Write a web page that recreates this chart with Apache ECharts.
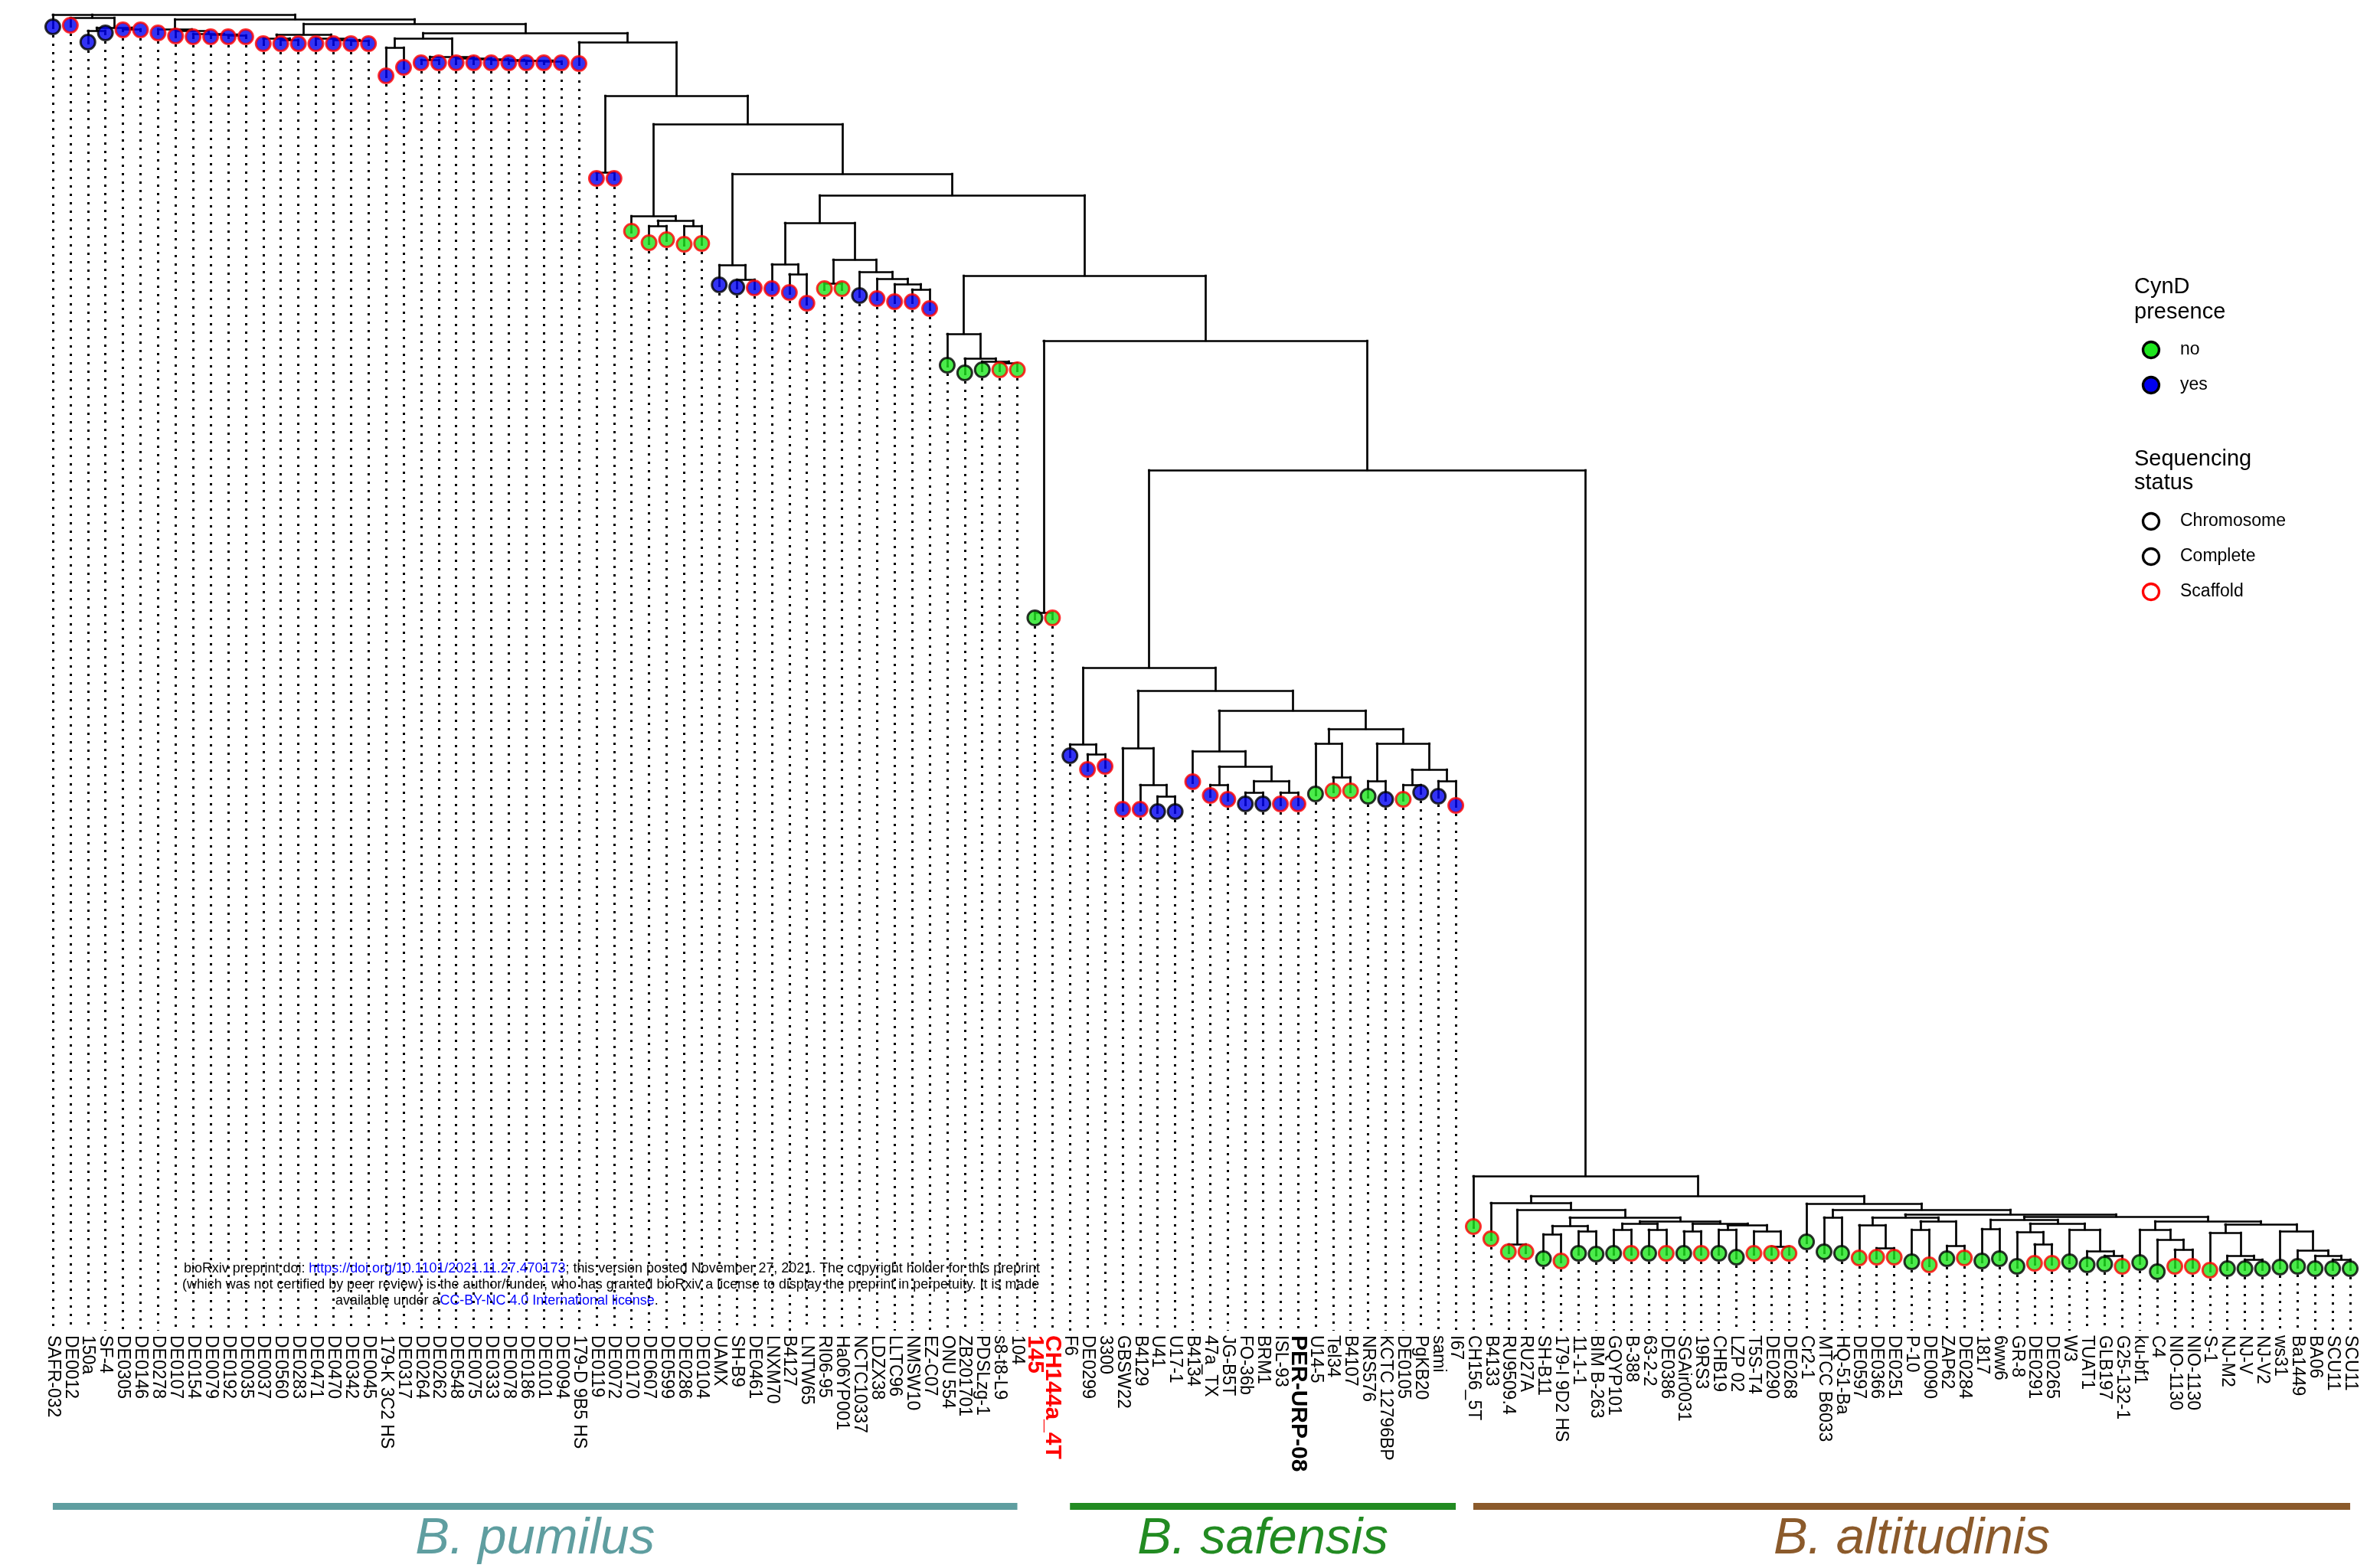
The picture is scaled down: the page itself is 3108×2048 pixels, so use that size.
<!DOCTYPE html>
<html>
<head>
<meta charset="utf-8">
<script src="https://cdn.jsdelivr.net/npm/echarts@6/dist/echarts.min.js"></script>
<style>
  html, body { margin: 0; padding: 0; background: #ffffff; }
  #chart { width: 3108px; height: 2048px; }
</style>
</head>
<body>
<div id="chart"></div>
<script>
// ---- Strains, in tip order (left to right) ----
const strains = [
  'SAFR-032','DE0012','150a','SF-4','DE0305','DE0146','DE0278','DE0107','DE0154','DE0079',
  'DE0192','DE0035','DE0037','DE0560','DE0283','DE0471','DE0470','DE0342','DE0045','179-K 3C2 HS',
  'DE0317','DE0264','DE0262','DE0548','DE0075','DE0333','DE0078','DE0186','DE0101','DE0094',
  '179-D 9B5 HS','DE0119','DE0072','DE0170','DE0607','DE0599','DE0286','DE0104','UAMX','SH-B9',
  'DE0461','LNXM70','B4127','LNTW65','RI06-95','Ha06YP001','NCTC10337','LDZX38','LLTC96','NMSW10',
  'EZ-C07','ONU 554','ZB201701','PDSLzg-1','s8-t8-L9','104','145','CH144a_4T','F6','DE0299',
  '3300','GBSW22','B4129','U41','U17-1','B4134','47a_TX','JG-B5T','FO-36b','BRM1',
  'ISL-93','PER-URP-08','U14-5','Tel34','B4107','NRS576','KCTC 12796BP','DE0105','PgKB20','sami',
  'I67','CH156_5T','B4133','RU9509.4','RU27A','SH-B11','179-I 9D2 HS','11-1-1','BIM B-263','GQYP101',
  'B-388','63-2-2','DE0386','SGAir0031','19RS3','CHB19','LZP 02','T5S-T4','DE0290','DE0268',
  'Cr2-1','MTCC B6033','HQ-51-Ba','DE0597','DE0366','DE0251','P-10','DE0090','ZAP62','DE0284',
  '1817','6ww6','GR-8','DE0291','DE0265','W3','TUAT1','GLB197','G25-132-1','ku-bf1',
  'C4','NIO-1130','NIO-1130','S-1','NJ-M2','NJ-V','NJ-V2','ws31','Ba1449','BA06',
  'SCU11','SCU11'
];

// CynD presence per strain (1 = yes, 0 = no)
const cyndPresence = [
  1,1,1,1,1,1,1,1,1,1, 1,1,1,1,1,1,1,1,1,1, 1,1,1,1,1,1,1,1,1,1,
  1,1,1,0,0,0,0,0,1,1, 1,1,1,1,0,0,1,1,1,1, 1,0,0,0,0,0,0,0,1,1,
  1,1,1,1,1,1,1,1,1,1, 1,1,0,0,0,0,1,0,1,1, 1,0,0,0,0,0,0,0,0,0,
  0,0,0,0,0,0,0,0,0,0, 0,0,0,0,0,0,0,0,0,0, 0,0,0,0,0,0,0,0,0,0,
  0,0,0,0,0,0,0,0,0,0, 0,0
];

// Sequencing status per strain
const seqStatus = [
  'Complete','Scaffold','Complete','Complete','Scaffold','Scaffold','Scaffold','Scaffold','Scaffold','Scaffold',
  'Scaffold','Scaffold','Scaffold','Scaffold','Scaffold','Scaffold','Scaffold','Scaffold','Scaffold','Scaffold',
  'Scaffold','Scaffold','Scaffold','Scaffold','Scaffold','Scaffold','Scaffold','Scaffold','Scaffold','Scaffold',
  'Scaffold','Scaffold','Scaffold','Scaffold','Scaffold','Scaffold','Scaffold','Scaffold','Complete','Complete',
  'Scaffold','Scaffold','Scaffold','Scaffold','Scaffold','Scaffold','Complete','Scaffold','Scaffold','Scaffold',
  'Scaffold','Complete','Complete','Complete','Scaffold','Scaffold','Complete','Scaffold','Complete','Scaffold',
  'Scaffold','Scaffold','Scaffold','Complete','Complete','Scaffold','Scaffold','Scaffold','Complete','Complete',
  'Scaffold','Scaffold','Complete','Scaffold','Scaffold','Complete','Complete','Scaffold','Complete','Complete',
  'Scaffold','Scaffold','Scaffold','Scaffold','Scaffold','Complete','Scaffold','Complete','Complete','Complete',
  'Scaffold','Complete','Scaffold','Complete','Scaffold','Complete','Complete','Scaffold','Scaffold','Scaffold',
  'Complete','Complete','Complete','Scaffold','Scaffold','Scaffold','Complete','Scaffold','Complete','Scaffold',
  'Complete','Complete','Complete','Scaffold','Scaffold','Complete','Complete','Complete','Scaffold','Complete',
  'Complete','Scaffold','Scaffold','Scaffold','Complete','Complete','Complete','Complete','Complete','Complete',
  'Complete','Complete'
];

// Depth of each tip below the root (tree depth units)
const tipDepth = [
  35,33,55,43,39,39,43,47,48,48,48,48,
  57,57,57,57,57,57,57,
  99,88,82,82,82,82,82,82,82,82,82,83,
  233,233,302,317,313,319,318,
  372,375,376,377,382,396,377,377,386,390,394,394,403,
  477,487,483,483,483,807,807,
  987,1005,1001,1057,1057,1060,1060,1021,1039,1044,1050,1050,1050,1050,1037,1033,1033,1040,1044,1044,1035,1040,1052,
  1602,1618,1635,1635,1644,1647,1637,1638,1637,1637,1637,1637,1637,1637,1637,1642,1637,1637,1637,
  1622,1635,1637,1643,1642,1642,1648,1652,1644,1643,1647,1644,1654,1650,1650,1648,1652,1651,1654,1649,
  1661,1654,1654,1659,1657,1657,1657,1655,1654,1657,1657,1657
];

// ---- Topology: [node depth, child, child, ...]; numbers are tip numbers (1-based) ----
const safensisClade = [872,
  [972, 59, [985, 60, 61]],
  [902,
    [977, 62, [1025, 63, [1040, 64, 65]]],
    [928,
      [981, 66, [1001, [1025, 67, 68], [1020, [1035, 69, 70], [1035, 71, 72]]]],
      [952, [971, 73, [1015, 74, 75]], [971, [1020, 76, 77], [1005, [1025, 78, 79], [1020, 80, 81]]]]
    ]
  ]
];

const altitudinisLeft = [1571, 83,
  [1580, [1625, 84, 85],
    [1590,
      [1601, [1612, 86, 87], [1608, 88, 89]],
      [1595,
        [1598, [1606, 90, 91], [1606, 92, 93]],
        [1598, [1608, 94, 95], [1600, [1606, 96, 97], [1608, 98, [1628, 99, 100]]]]
      ]
    ]
  ]
];

const altitudinisRight = [1572, 101,
  [1580, [1590, 102, 103],
    [1586,
      [1590, [1600, 104, [1630, 105, 106]], [1595, [1606, 107, 108], [1627, 109, 110]]],
      [1589,
        [1593, [1605, 111, 112],
          [1598, [1609, 113, [1625, 114, 115]], [1606, 116, [1634, 117, [1640, 118, 119]]]]],
        [1595, [1606, 120, [1619, 121, [1632, 122, 123]]],
          [1599, [1610, 124, [1640, 125, [1645, 126, 127]]],
                 [1608, 128, [1633, 129, [1640, 130, [1645, 131, 132]]]]]]
      ]
    ]
  ]
];

const altitudinisClade = [1536, 82, [1562, altitudinisLeft, altitudinisRight]];

const pumilusLower = [255,
  [291, [345, 42, [358, 43, 44]],
        [339, [370, 45, 46], [355, 47, [364, 48, [371, 49, [378, 50, 51]]]]]],
  [360,
    [436, 52, [468, 53, [472, 54, [474, 55, 56]]]],
    [445, [800, 57, 58], [614, safensisClade, altitudinisClade]]
  ]
];

const treeTopology = [19, 1,
  [23, 2, [36, [40, 3, 4], [38, 5, 6]]],
  [25,
    [38, 7, [40, 8, [44, 9, [45, 10, [46, 11, 12]]]]],
    [31,
      [45, [50, 13, [52, 14, 15]], [50, 16, [52, 17, [53, 18, 19]]]],
      [43,
        [50, [62, 20, 21],
             [74, [78, 22, 23], [76, 24, [77, 25, [78, 26, [79, 27, [79, 28, [80, 29, 30]]]]]]]],
        [55, 31,
          [125, [225, 32, 33],
            [162,
              [282, 34, [288, [295, 35, 36], [295, 37, 38]]],
              [227, [346, 39, [365, 40, 41]], pumilusLower]
            ]
          ]
        ]
      ]
    ]
  ]
];

// Species groups (first / last tip number)
const speciesNames = ['B. pumilus', 'B. safensis', 'B. altitudinis'];
const speciesFirst = [1, 59, 82];
const speciesLast = [56, 81, 132];
const speciesColors = ['#5f9ea0', '#228b22', '#8b5a2b'];

// Highlighted tip labels
const redLabels = ['145', 'CH144a_4T'];
const boldLabels = ['PER-URP-08'];

// ---- Tree layout: node sits midway between its first and last child ----
const branchSegments = [];
function placeNode(node) {
  if (typeof node === 'number') return { x: node - 1, d: tipDepth[node - 1] };
  const d = node[0];
  const kids = node.slice(1).map(placeNode);
  const first = kids[0].x, last = kids[kids.length - 1].x;
  branchSegments.push([[first, d], [last, d]]);
  kids.forEach(k => branchSegments.push([[k.x, d], [k.x, k.d]]));
  return { x: (first + last) / 2, d };
}
placeNode(treeTopology);

const AXIS_BOTTOM = 1738;
const GREEN = '#1ee61e', BLUE = '#0000f0', RED = '#ff0000';
const FONT = '"Liberation Sans", Arial, sans-serif';

const tipPoints = strains.map((name, i) => ({
  value: [i, tipDepth[i]],
  itemStyle: {
    color: cyndPresence[i] ? BLUE : GREEN,
    borderColor: seqStatus[i] === 'Scaffold' ? RED : '#000000',
    borderWidth: 3
  }
}));

const dottedGuides = strains.map((name, i) => ({ coords: [[i, tipDepth[i]], [i, AXIS_BOTTOM]] }));

const chart = echarts.init(document.getElementById('chart'), null, { renderer: 'canvas' });

const option = {
  backgroundColor: '#ffffff',
  animation: false,
  grid: { left: 57.5, right: 27.5, top: 0, bottom: 2048 - AXIS_BOTTOM, outerBoundsMode: 'none' },
  xAxis: [
    {
      type: 'category',
      data: strains,
      position: 'bottom',
      axisLine: { show: false },
      axisTick: { show: false },
      splitLine: { show: false },
      axisLabel: {
        interval: 0,
        rotate: -90,
        margin: 6,
        fontSize: 23,
        fontFamily: FONT,
        color: '#000000',
        formatter: v => redLabels.includes(v) ? '{r|' + v + '}' : (boldLabels.includes(v) ? '{b|' + v + '}' : v),
        rich: {
          r: { color: RED, fontWeight: 'bold', fontSize: 30, fontFamily: FONT },
          b: { color: '#000000', fontWeight: 'bold', fontSize: 30, fontFamily: FONT }
        }
      }
    },
    { type: 'value', min: -0.5, max: strains.length - 0.5, show: false }
  ],
  yAxis: { type: 'value', inverse: true, min: 0, max: AXIS_BOTTOM, show: false },
  series: [
    {
      type: 'lines', coordinateSystem: 'cartesian2d', xAxisIndex: 1, yAxisIndex: 0,
      data: dottedGuides, silent: true, z: 1,
      lineStyle: { color: '#000000', width: 3, type: [3, 8], opacity: 1 }
    },
    {
      type: 'lines', coordinateSystem: 'cartesian2d', xAxisIndex: 1, yAxisIndex: 0,
      data: branchSegments.map(c => ({ coords: c })), silent: true, z: 2,
      lineStyle: { color: '#000000', width: 2.7, cap: 'square', opacity: 1 }
    },
    {
      type: 'scatter', xAxisIndex: 1, yAxisIndex: 0, z: 3,
      symbol: 'circle', symbolSize: 19,
      data: tipPoints
    }
  ]
};
chart.setOption(option);

// ---- Species bars, legend and preprint notice ----
const px = i => chart.convertToPixel({ xAxisIndex: 1 }, i);
const graphics = [];
speciesNames.forEach((name, s) => {
  const x1 = px(speciesFirst[s] - 1), x2 = px(speciesLast[s] - 1);
  graphics.push({
    type: 'rect', shape: { x: x1, y: 1963, width: x2 - x1, height: 9 },
    style: { fill: speciesColors[s] }
  });
  graphics.push({
    type: 'text', x: (x1 + x2) / 2, y: 2010,
    style: {
      text: name, fill: speciesColors[s], align: 'center', verticalAlign: 'middle',
      font: 'italic 67px ' + FONT
    }
  });
});

const legendX = 2787, legendDot = 2809, legendText = 2847;
const legendTitles = [['CynD', 375], ['presence', 408], ['Sequencing', 600], ['status', 631]];
legendTitles.forEach(([t, y]) => graphics.push({
  type: 'text', x: legendX, y,
  style: { text: t, fill: '#000', font: '29px ' + FONT, align: 'left', verticalAlign: 'middle' }
}));
const legendItems = [
  ['no', 457, GREEN, '#000000'],
  ['yes', 503, BLUE, '#000000'],
  ['Chromosome', 681, '#ffffff', '#000000'],
  ['Complete', 727, '#ffffff', '#000000'],
  ['Scaffold', 773, '#ffffff', RED]
];
legendItems.forEach(([t, y, fill, stroke]) => {
  graphics.push({
    type: 'circle', shape: { cx: legendDot, cy: y, r: 10.5 },
    style: { fill, stroke, lineWidth: 3.3 }
  });
  graphics.push({
    type: 'text', x: legendText, y,
    style: { text: t, fill: '#000', font: '23px ' + FONT, align: 'left', verticalAlign: 'middle' }
  });
});

// preprint notice, set in a narrow face
const noticeLines = [
  ['bioRxiv preprint doi: {l|https://doi.org/10.1101/2021.11.27.470173}; this version posted November 27, 2021. The copyright holder for this preprint', 240, 1657],
  ['(which was not certified by peer review) is the author/funder, who has granted bioRxiv a license to display the preprint in perpetuity. It is made', 238, 1678],
  ['available under a{l|CC-BY-NC 4.0 International license}.', 438, 1699]
];
const measureCtx = document.createElement('canvas').getContext('2d');
measureCtx.font = '18px "Liberation Sans"';
const plainFirst = noticeLines[0][0].replace(/\{l\|([^}]*)\}/g, '$1');
const noticeScale = 1118 / measureCtx.measureText(plainFirst).width;
noticeLines.forEach(([t, x, y]) => graphics.push({
  type: 'text', x, y, scaleX: noticeScale,
  style: {
    text: t, fill: '#000', font: '18px ' + FONT, align: 'left', verticalAlign: 'middle',
    rich: { l: { fill: '#0000ff', font: '18px ' + FONT } }
  }
}));

chart.setOption({ graphic: graphics });
</script>
</body>
</html>
